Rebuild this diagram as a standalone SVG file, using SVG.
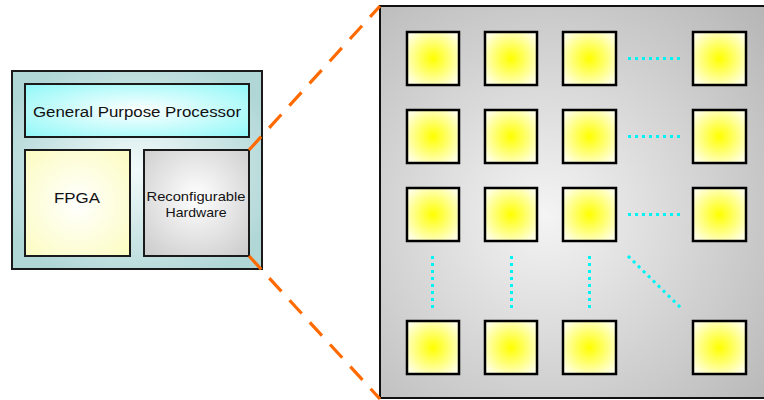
<svg xmlns="http://www.w3.org/2000/svg" width="764" height="400" viewBox="0 0 764 400">
  <defs>
    <radialGradient id="chipBg" cx="0.5" cy="0.5" r="0.6">
      <stop offset="0" stop-color="#f2fafa"/>
      <stop offset="1" stop-color="#b0d6d6"/>
    </radialGradient>
    <radialGradient id="gppFill" cx="0.5" cy="0.5" r="0.7">
      <stop offset="0" stop-color="#ffffff"/>
      <stop offset="1" stop-color="#90f8f8"/>
    </radialGradient>
    <radialGradient id="fpgaFill" cx="0.5" cy="0.5" r="0.7">
      <stop offset="0" stop-color="#ffffff"/>
      <stop offset="1" stop-color="#fcfcc0"/>
    </radialGradient>
    <radialGradient id="rhFill" cx="0.5" cy="0.45" r="0.7">
      <stop offset="0" stop-color="#ffffff"/>
      <stop offset="1" stop-color="#cdcdcd"/>
    </radialGradient>
    <radialGradient id="panelFill" gradientUnits="userSpaceOnUse" cx="545" cy="215" r="300">
      <stop offset="0" stop-color="#f4f4f4"/>
      <stop offset="1" stop-color="#b6b6b6"/>
    </radialGradient>
    <radialGradient id="cellFill" cx="0.5" cy="0.5" r="0.62">
      <stop offset="0" stop-color="#ffff00"/>
      <stop offset="1" stop-color="#ffffe6"/>
    </radialGradient>
  </defs>
  <style>
    .box { stroke: #1a1a1a; stroke-width: 2; }
    .cell { fill: url(#cellFill); stroke: #000; stroke-width: 2.5; }
    .label { font-family: "Liberation Sans", "DejaVu Sans", sans-serif; fill: #111; text-anchor: middle; }
    .dots { stroke: #00f4f4; stroke-width: 3; stroke-dasharray: 3 4; fill: none; }
    .zoom { stroke: #ff6a00; stroke-width: 3.2; stroke-dasharray: 18 12; fill: none; }
  </style>

  <!-- System chip -->
  <g id="chip">
    <rect class="box" x="12" y="71" width="250" height="198" fill="url(#chipBg)"/>
  </g>
  <g id="gpp">
    <rect class="box" x="25" y="84" width="224" height="53" fill="url(#gppFill)" stroke-width="1.5"/>
    <text class="label" x="137" y="117" font-size="15.5" textLength="208" lengthAdjust="spacingAndGlyphs">General Purpose Processor</text>
  </g>
  <g id="fpga">
    <rect class="box" x="25" y="150" width="105" height="106" fill="url(#fpgaFill)" stroke-width="1.5"/>
    <text class="label" x="77" y="203" font-size="14" textLength="46" lengthAdjust="spacingAndGlyphs">FPGA</text>
  </g>
  <g id="reconfigurable">
    <rect class="box" x="144" y="150" width="105" height="106" fill="url(#rhFill)" stroke-width="1.5"/>
    <text class="label" x="196" y="201" font-size="13.5" textLength="99" lengthAdjust="spacingAndGlyphs">Reconfigurable</text>
    <text class="label" x="196" y="217" font-size="13.5" textLength="61" lengthAdjust="spacingAndGlyphs">Hardware</text>
  </g>

  <!-- Enlarged array of cells -->
  <g id="array">
    <rect x="380" y="6" width="400" height="392" fill="url(#panelFill)" stroke="#111" stroke-width="2"/>
  </g>
  <g id="cells">
    <rect class="cell" x="407" y="32" width="52" height="53"/>
    <rect class="cell" x="485" y="32" width="52" height="53"/>
    <rect class="cell" x="563" y="32" width="53" height="53"/>
    <rect class="cell" x="693" y="32" width="53" height="53"/>

    <rect class="cell" x="407" y="110" width="52" height="53"/>
    <rect class="cell" x="485" y="110" width="52" height="53"/>
    <rect class="cell" x="563" y="110" width="53" height="53"/>
    <rect class="cell" x="693" y="110" width="53" height="53"/>

    <rect class="cell" x="407" y="188" width="52" height="53"/>
    <rect class="cell" x="485" y="188" width="52" height="53"/>
    <rect class="cell" x="563" y="188" width="53" height="53"/>
    <rect class="cell" x="693" y="188" width="53" height="53"/>

    <rect class="cell" x="407" y="321" width="52" height="53"/>
    <rect class="cell" x="485" y="321" width="52" height="53"/>
    <rect class="cell" x="563" y="321" width="53" height="53"/>
    <rect class="cell" x="693" y="321" width="53" height="53"/>
  </g>

  <!-- Connectors -->
  <g id="connectors">
    <line class="dots" x1="628" y1="58.5" x2="681" y2="58.5"/>
    <line class="dots" x1="628" y1="136.5" x2="681" y2="136.5"/>
    <line class="dots" x1="628" y1="214.5" x2="681" y2="214.5"/>
    <line class="dots" x1="432.5" y1="256" x2="432.5" y2="308"/>
    <line class="dots" x1="511.5" y1="256" x2="511.5" y2="308"/>
    <line class="dots" x1="589.5" y1="256" x2="589.5" y2="308"/>
    <line class="dots" x1="628" y1="256" x2="681" y2="308"/>
    <line class="zoom" x1="249" y1="150" x2="380" y2="6"/>
    <line class="zoom" x1="249" y1="256" x2="380" y2="399"/>
  </g>
</svg>
